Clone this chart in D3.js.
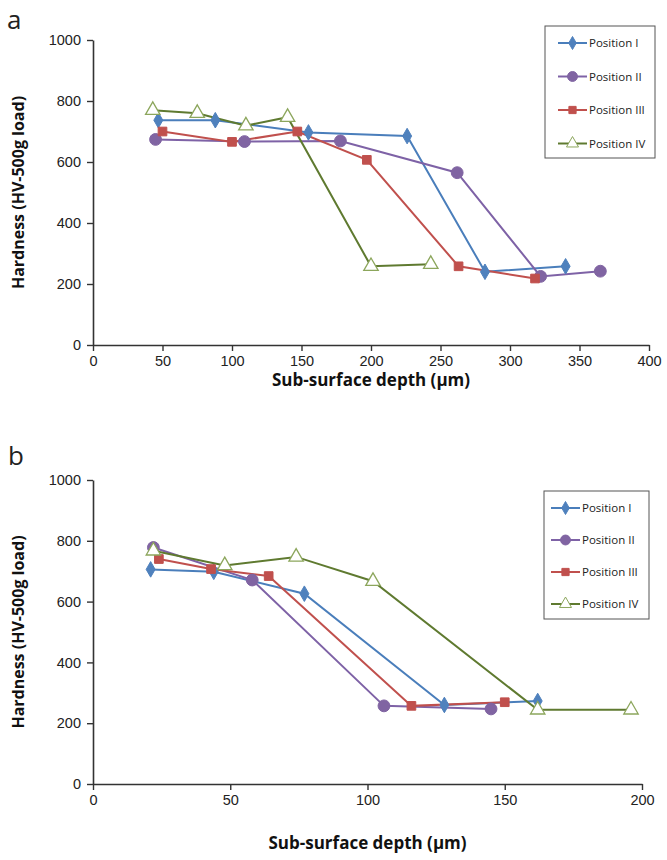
<!DOCTYPE html>
<html><head><meta charset="utf-8">
<script src="https://cdn.jsdelivr.net/npm/d3@7"></script>
<style>body{margin:0;background:#fff}svg{display:block;font-family:'Open Sans','Noto Sans',sans-serif}</style>
</head><body><svg id="c" width="667" height="860"></svg>
<script>
const seriesNames = ["Position I","Position II","Position III","Position IV"];
const yTicks = [0,200,400,600,800,1000];
const xTicksA = [0,50,100,150,200,250,300,350,400];
const xTicksB = [0,50,100,150,200];
// Panel a
const aPosI_x = [47,88,155,226,282,340];
const aPosI_y = [737,737,697,685,240,258];
const aPosII_x = [45,109,178,262,322,365];
const aPosII_y = [674,667,669,565,225,242];
const aPosIII_x = [50,100,147,197,263,318];
const aPosIII_y = [700,666,700,607,258,218];
const aPosIV_x = [43,75,110,140,200,243];
const aPosIV_y = [770,760,719,747,258,265];
// Panel b
const bPosI_x = [21,44,77,128,162];
const bPosI_y = [706,698,626,260,273];
const bPosII_x = [22,58,106,145];
const bPosII_y = [778,671,257,247];
const bPosIII_x = [24,43,64,116,150];
const bPosIII_y = [740,707,684,257,269];
const bPosIV_x = [22,48,74,102,162,196];
const bPosIV_y = [767,719,747,667,244,244];

const styles = [
  {line:"#4a7ebb", fill:"#4f81bd", stroke:"#4f81bd", sym:d3.symbolDiamond, size:70},
  {line:"#7e62a6", fill:"#8064a2", stroke:"#8064a2", sym:d3.symbolCircle, size:110},
  {line:"#c0504d", fill:"#c0504d", stroke:"#c0504d", sym:d3.symbolSquare, size:75},
  {line:"#5f7a30", fill:"#ffffff", stroke:"#8ca65c", sym:d3.symbolTriangle, size:90}
];

const svg = d3.select("#c");
const axisCol = "#333";

function panel(cfg){
  const x = d3.scaleLinear().domain([0, cfg.xmax]).range(cfg.xr);
  const y = d3.scaleLinear().domain([0, 1000]).range(cfg.yr);
  const g = svg.append("g");
  const ya = g.append("g").attr("transform",`translate(${cfg.xr[0]},0)`)
    .call(d3.axisLeft(y).tickValues(yTicks).tickFormat(d3.format("d")).tickSize(6).tickPadding(6).tickSizeOuter(0));
  const xa = g.append("g").attr("transform",`translate(0,${cfg.yr[0]})`)
    .call(d3.axisBottom(x).tickValues(cfg.xticks).tickFormat(d3.format("d")).tickSize(6).tickPadding(5).tickSizeOuter(0));
  [ya,xa].forEach(a=>{
    a.select(".domain").attr("stroke",axisCol).attr("stroke-width",1.6);
    a.selectAll(".tick line").attr("stroke",axisCol).attr("stroke-width",1.4);
    a.selectAll(".tick text").attr("fill","#222").style("font-size","14.5px");
  });
  cfg.series.forEach((s,i)=>{
    const st = styles[i];
    const pts = s.x.map((v,j)=>[v,s.y[j]]);
    g.append("path").datum(pts)
      .attr("fill","none").attr("stroke",st.line).attr("stroke-width",2)
      .attr("d", d3.line().x(d=>x(d[0])).y(d=>y(d[1])));
  });
  cfg.series.forEach((s,i)=>{
    const st = styles[i];
    const pts = s.x.map((v,j)=>[v,s.y[j]]);
    g.selectAll(null).data(pts).enter().append("path")
      .attr("transform",d=>`translate(${x(d[0])},${y(d[1])})`)
      .attr("d", d3.symbol().type(st.sym).size(st.size))
      .attr("fill",st.fill).attr("stroke",st.stroke).attr("stroke-width",i===3?1.3:1);
  });
  const xm = (cfg.xr[0]+cfg.xr[1])/2;
  g.append("text").attr("x",xm).attr("y",cfg.xtitleY).attr("text-anchor","middle")
    .style("font-weight","bold").style("font-size","17px").attr("fill","#111")
    .text("Sub-surface depth (μm)");
  const ym = (cfg.yr[0]+cfg.yr[1])/2;
  g.append("text").attr("transform",`translate(24,${ym}) rotate(-90)`).attr("text-anchor","middle")
    .style("font-weight","bold").style("font-size","16px").attr("fill","#111")
    .text("Hardness (HV-500g load)");
  g.append("text").attr("x",cfg.lab[0]).attr("y",cfg.lab[1]).style("font-size","26px").attr("fill","#222").text(cfg.label);
  const L = cfg.legend;
  g.append("rect").attr("x",L.x).attr("y",L.y).attr("width",L.w).attr("height",L.h)
    .attr("fill","#fff").attr("stroke","#555").attr("stroke-width",1);
  seriesNames.forEach((n,i)=>{
    const st = styles[i];
    const yy = L.y + L.first + i*L.step;
    g.append("line").attr("x1",L.x+L.lx0).attr("x2",L.x+L.lx1).attr("y1",yy).attr("y2",yy)
      .attr("stroke",st.line).attr("stroke-width",2);
    g.append("path").attr("transform",`translate(${L.x+(L.lx0+L.lx1)/2},${yy})`)
      .attr("d", d3.symbol().type(st.sym).size(st.size*0.7))
      .attr("fill",st.fill).attr("stroke",st.stroke).attr("stroke-width",1);
    g.append("text").attr("x",L.x+L.lx1+2).attr("y",yy+4).style("font-size","11.5px").attr("fill","#222").text(n);
  });
}

panel({
  xmax:400, xr:[93,649], yr:[345,40], xticks:xTicksA, xtitleY:386, lab:[7,29], label:"a",
  series:[{x:aPosI_x,y:aPosI_y},{x:aPosII_x,y:aPosII_y},{x:aPosIII_x,y:aPosIII_y},{x:aPosIV_x,y:aPosIV_y}],
  legend:{x:545,y:26,w:110,h:132,first:17,step:33.5,lx0:13,lx1:42}
});
panel({
  xmax:200, xr:[93,642], yr:[784,480], xticks:xTicksB, xtitleY:849, lab:[8,465], label:"b",
  series:[{x:bPosI_x,y:bPosI_y},{x:bPosII_x,y:bPosII_y},{x:bPosIII_x,y:bPosIII_y},{x:bPosIV_x,y:bPosIV_y}],
  legend:{x:544,y:491,w:105,h:128,first:17,step:32,lx0:7,lx1:36}
});
</script></body></html>
